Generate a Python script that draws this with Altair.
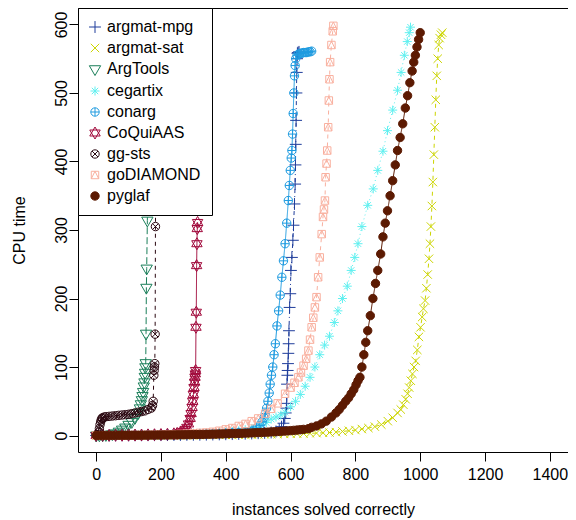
import altair as alt
import pandas as pd

FONT = "Liberation Sans"

solvers = ["argmat-mpg", "argmat-sat", "ArgTools", "cegartix", "conarg",
           "CoQuiAAS", "gg-sts", "goDIAMOND", "pyglaf"]
colors = ["#1F3D9B", "#CCD500", "#1B7F5A", "#60F0F0", "#1E9BE0",
          "#A1093B", "#2A0710", "#F9B09F", "#5C1A02"]
fills = ["transparent"] * 8 + ["#5C1A02"]
shapes = [
    "M-0.99,0L0.99,0M0,-0.99L0,0.99",                                   # +
    "M-0.7,-0.7L0.7,0.7M-0.7,0.7L0.7,-0.7",                              # x
    "M0,1.089L0.943,-0.544L-0.943,-0.544Z",                              # triangle down
    "M-0.75,0L0.75,0M0,-0.75L0,0.75M-0.53,-0.53L0.53,0.53M-0.53,0.53L0.53,-0.53",  # asterisk
    "M-0.7,0A0.7,0.7 0 1,0 0.7,0A0.7,0.7 0 1,0 -0.7,0M-0.7,0L0.7,0M0,-0.7L0,0.7",  # circle plus
    "M0,-1.0L0.87,0.5L-0.87,0.5ZM0,1.0L0.87,-0.5L-0.87,-0.5Z",          # star of David
    "M-0.7,0A0.7,0.7 0 1,0 0.7,0A0.7,0.7 0 1,0 -0.7,0M-0.495,-0.495L0.495,0.495M-0.495,0.495L0.495,-0.495",  # circle x
    "M-0.62,-0.62L0.62,-0.62L0.62,0.62L-0.62,0.62ZM-0.62,0.62L0,-0.62L0.62,0.62",  # square + triangle
    "M-0.7,0A0.7,0.7 0 1,0 0.7,0A0.7,0.7 0 1,0 -0.7,0Z",               # filled circle
]
dashes = [[1, 3, 4, 3], [4, 4], [7, 3], [1, 3], [1, 0], [1, 0], [4, 4], [4, 4], [1, 0]]

# ---- data: instances solved (x) and CPU time (y) ----
mpg_x = list(range(0, 541, 20)) + [555, 565, 572, 578, 582, 585, 587, 588, 589, 590,
                                   591, 592, 593, 594, 595, 597, 599, 601, 604, 607,
                                   609, 612, 614, 615, 616, 617, 618, 619, 620, 621, 623, 626]
mpg_y = [0.1, 0.1, 0.2, 0.2, 0.3, 0.3, 0.4, 0.4, 0.5, 0.5, 0.6, 0.7, 0.8, 0.9, 1.0, 1.1,
         1.2, 1.3, 1.5, 1.7, 1.9, 2.1, 2.4, 2.7, 3.0, 3.4, 3.9, 4.5,
         6, 9, 13, 18, 25, 33, 40, 47, 75, 88, 95, 105, 120, 134, 153, 187, 207, 241, 260,
         285, 307, 338, 367, 395, 425, 460, 500, 530, 550, 558, 559, 560]

sat_x = list(range(0, 801, 20)) + [820, 840, 860, 880, 900, 915, 930, 940, 948, 955,
                                   961, 966, 971, 976, 981, 986, 991, 996, 1001, 1006,
                                   1010, 1015, 1019, 1023, 1027, 1030, 1033, 1036, 1039,
                                   1042, 1045, 1048, 1051, 1054, 1057, 1060, 1064, 1068]
sat_y = [0.1, 0.1, 0.1, 0.2, 0.2, 0.2, 0.3, 0.3, 0.3, 0.4, 0.4, 0.5, 0.5, 0.6, 0.6, 0.7,
         0.7, 0.8, 0.9, 1.0, 1.1, 1.2, 1.3, 1.4, 1.5, 1.6, 1.8, 2.0, 2.2, 2.4, 2.6, 2.8,
         3.0, 3.3, 3.6, 4.0, 4.4, 5.0, 6.0, 7.0, 8.0,
         9.5, 11, 13, 16, 21, 26, 33, 38, 45, 53, 61, 70, 80, 90, 100, 109, 125, 144, 158,
         173, 185, 197, 215, 235, 258, 280, 305, 335, 370, 410, 450, 490, 525, 550, 570,
         580, 585, 588]

argtools_x = list(range(0, 131, 10)) + [135, 138, 141, 143, 145, 147, 149, 150, 151, 152,
                                        153, 154, 155, 156, 158, 160]
argtools_y = [0.3, 0.5, 0.7, 1.0, 1.5, 2.2, 3.5, 6, 9, 12, 16, 20, 26, 33,
              40, 46, 52, 58, 64, 72, 78, 86, 92, 100, 106, 149, 216, 244, 314, 430]

ceg_x = list(range(0, 421, 20)) + [440, 460, 480, 493, 510, 525, 540, 555, 570, 583,
                                   600, 615, 630, 645, 660, 675, 690, 705, 720, 735,
                                   746, 760, 775, 787, 798, 808, 820, 838, 855, 869,
                                   885, 899, 915, 930, 941, 951, 960, 966, 970]
ceg_y = [0.1, 0.1, 0.2, 0.2, 0.3, 0.3, 0.4, 0.5, 0.6, 0.7, 0.8, 1.0, 1.2, 1.4, 1.7, 2.0,
         2.4, 2.9, 3.5, 4.2, 5.0, 6.0,
         7, 8.5, 10, 12, 15, 19, 24, 27, 30, 34, 42, 50, 60, 72, 85, 100, 118, 132, 145,
         165, 182, 200, 218, 241, 260, 280, 305, 336, 360, 387, 415, 445, 475, 504, 530,
         555, 575, 588, 596]

conarg_x = list(range(0, 461, 20)) + [475, 485, 495, 505, 512, 518, 522, 526, 530, 534,
                                      537, 541, 545, 549, 553, 558, 563, 568, 573, 578,
                                      583, 588, 593, 596, 599, 602, 604, 606, 608, 610,
                                      612, 614, 616, 620, 625, 630, 635, 640, 645, 650,
                                      655, 660, 665]
conarg_y = [0.1, 0.1, 0.2, 0.2, 0.3, 0.3, 0.4, 0.5, 0.6, 0.7, 0.8, 0.9, 1.0, 1.2, 1.4,
            1.6, 1.9, 2.2, 2.6, 3.0, 3.5, 4.0, 4.6, 5.2,
            6, 8, 11, 15, 20, 26, 32, 40, 50, 62, 75, 88, 100, 118, 134, 160, 182, 205,
            231, 255, 280, 310, 343, 365, 387, 405, 416, 440, 470, 500, 525, 540, 550,
            555, 557, 558, 558, 559, 559, 559, 560, 560, 561]

coq_x = list(range(0, 241, 20)) + [250, 260, 268, 275, 280, 285, 290, 293, 296, 298,
                                   300, 302, 304, 305, 306, 307, 308, 309, 310, 311,
                                   312, 313]
coq_y = [0.2, 0.3, 0.3, 0.4, 0.5, 0.6, 0.7, 0.8, 1.0, 1.2, 1.5, 1.9, 2.5,
         3.2, 4.5, 6, 9, 12, 17, 25, 32, 41, 50, 60, 70, 78, 85, 90, 95, 158, 180, 248,
         280, 302, 311]

ggsts_x = [0, 5, 8, 10, 12, 14, 16, 18, 20, 25] + list(range(30, 171, 10)) + \
          [174, 176, 178, 179, 180, 181, 182, 183, 184]
ggsts_y = [0.5, 1.5, 5, 10, 16, 20, 23, 25, 26, 27,
           27.5, 28, 28.5, 29, 29.5, 30, 30.5, 31, 32, 33, 34, 35, 36, 38, 40,
           44, 50, 88, 95, 100, 105, 148, 305, 380]

godia_x = list(range(0, 341, 20)) + [360, 380, 400, 420, 440, 461, 480, 500, 522, 540,
                                     560, 583, 600, 612, 624, 632, 640, 648, 655, 660,
                                     665, 670, 675, 680, 685, 690, 696, 700, 703, 706,
                                     708, 711, 713, 716, 718, 720, 722, 726, 730, 732]
godia_y = [0.1, 0.2, 0.3, 0.4, 0.5, 0.6, 0.7, 0.8, 1.0, 1.2, 1.4, 1.7, 2.0, 2.4, 2.8,
           3.3, 3.9, 4.5,
           5.5, 7, 9, 11, 14, 17, 21, 25, 32, 39, 47, 61, 70, 77, 85, 92, 102, 112, 124,
           140, 158, 172, 187, 202, 231, 260, 294, 319, 330, 343, 377, 397, 416, 450,
           489, 520, 545, 570, 590, 598]

pyglaf_x = list(range(0, 641, 10)) + [655, 665, 680, 695, 710, 726, 740, 750, 760, 770,
                                      779, 787, 795, 802, 808, 814, 820, 826, 832, 838,
                                      846, 854, 862, 869, 878, 885, 892, 899, 907, 915,
                                      923, 930, 938, 946, 954, 961, 968, 975, 980, 985,
                                      990, 995, 1000]
pyglaf_y = [0.2, 0.2, 0.2, 0.3, 0.3, 0.3, 0.3, 0.4, 0.4, 0.4,
            0.4, 0.5, 0.5, 0.5, 0.5, 0.6, 0.6, 0.7, 0.7, 0.8,
            0.8, 0.9, 0.9, 1.0, 1.0, 1.1, 1.1, 1.2, 1.2, 1.3,
            1.4, 1.5, 1.6, 1.7, 1.8, 1.9, 2.0, 2.1, 2.2, 2.4,
            2.5, 2.7, 2.8, 3.0, 3.1, 3.3, 3.5, 3.7, 3.9, 4.1,
            4.3, 4.5, 4.8, 5.0, 5.3, 5.6, 5.9, 6.2, 6.5, 6.8,
            7.2, 7.6, 8.0, 8.5, 9.0,
            10, 12, 14, 17, 21, 27, 33, 38, 44, 50, 55, 61, 67, 74, 80, 85, 100, 118, 136,
            153, 175, 200, 222, 241, 265, 290, 310, 328, 350, 372, 395, 416, 435, 455,
            478, 496, 515, 532, 545, 555, 567, 578, 588]

series = [(mpg_x, mpg_y), (sat_x, sat_y), (argtools_x, argtools_y), (ceg_x, ceg_y),
          (conarg_x, conarg_y), (coq_x, coq_y), (ggsts_x, ggsts_y), (godia_x, godia_y),
          (pyglaf_x, pyglaf_y)]

rows = []
for k, (name, (xs, ys)) in enumerate(zip(solvers, series)):
    assert len(xs) == len(ys), name
    for x, y in zip(xs, ys):
        rows.append({"solver": name, "k": k, "x": x, "y": y})
df = pd.DataFrame(rows)

x_enc = alt.X("x:Q",
              scale=alt.Scale(domain=[-56, 1456], nice=False, zero=False),
              axis=alt.Axis(values=list(range(0, 1401, 200)), format="d",
                            title="instances solved correctly", grid=False, domain=False,
                            tickColor="black", tickSize=9, tickWidth=1,
                            labelFont=FONT, labelFontSize=16, labelColor="black",
                            labelPadding=5, labelFlush=False, labelOverlap=False,
                            titleFont=FONT, titleFontSize=16, titleFontWeight="normal",
                            titleColor="black", titleX=245, titleY=62,
                            titleBaseline="alphabetic", titleAlign="center"))
y_enc = alt.Y("y:Q",
              scale=alt.Scale(domain=[-24, 624], nice=False, zero=False),
              axis=alt.Axis(values=list(range(0, 601, 100)), format="d",
                            title="CPU time", grid=False, domain=False,
                            tickColor="black", tickSize=9, tickWidth=1,
                            labelFont=FONT, labelFontSize=16, labelColor="black",
                            labelAngle=270, labelAlign="center", labelBaseline="alphabetic",
                            labelPadding=3, labelFlush=False, labelOverlap=False,
                            titleFont=FONT, titleFontSize=16, titleFontWeight="normal",
                            titleColor="black", titleAngle=270, titleX=-54, titleY=222,
                            titleBaseline="alphabetic", titleAlign="center"))

legend = alt.Legend(title=None, orient="top-left", offset=0,
                    fillColor="white", strokeColor="black", padding=11, rowPadding=5,
                    symbolSize=144, symbolStrokeWidth=1, symbolOpacity=1, symbolOffset=-2,
                    labelFont=FONT, labelFontSize=16, labelColor="black",
                    labelOffset=4, labelLimit=400, zindex=1)

# line layer: reversed domain order so its (hidden) legend is not merged with the point legend
rev_solvers = solvers[::-1]
lines = alt.Chart(df).mark_line(strokeWidth=1, clip=True).encode(
    x=x_enc, y=y_enc,
    color=alt.Color("solver:N", scale=alt.Scale(domain=rev_solvers, range=colors[::-1]),
                    legend=None),
    strokeDash=alt.StrokeDash("solver:N", scale=alt.Scale(domain=rev_solvers, range=dashes[::-1]),
                              legend=None),
    order=alt.Order("x:Q"),
)

points = alt.Chart(df).mark_point(size=144, strokeWidth=1, opacity=1, clip=True).encode(
    x=x_enc, y=y_enc,
    stroke=alt.Stroke("solver:N", scale=alt.Scale(domain=solvers, range=colors), legend=legend),
    fill=alt.Fill("solver:N", scale=alt.Scale(domain=solvers, range=fills), legend=legend),
    shape=alt.Shape("solver:N", scale=alt.Scale(domain=solvers, range=shapes), legend=legend),
    order=alt.Order("k:Q"),
)

chart = alt.layer(lines, points).properties(
    width=490, height=444,
    padding={"left": 70, "top": 0, "right": 0, "bottom": 68},
    autosize=alt.AutoSizeParams(type="none"),
).configure_view(stroke="black", strokeWidth=1)

chart.save("out.html", embed_options={"renderer": "svg", "actions": False})
